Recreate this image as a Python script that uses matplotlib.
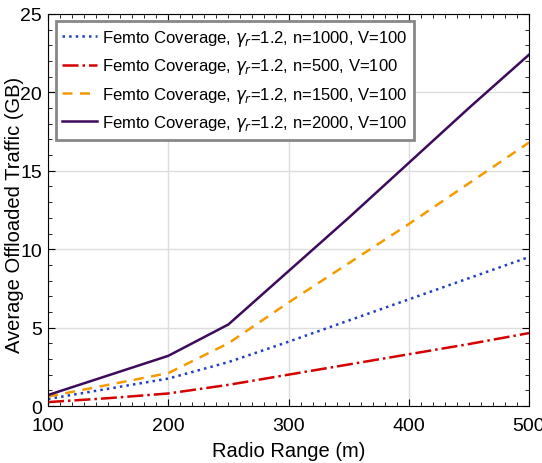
import numpy as np
import matplotlib.pyplot as plt
from matplotlib.ticker import MultipleLocator

# data
radio_range = [100, 150, 200, 250, 300, 350, 400, 450, 500]
n1000 = [0.45, 1.1, 1.75, 2.8, 4.1, 5.45, 6.8, 8.15, 9.5]
n500 = [0.25, 0.5, 0.8, 1.35, 2.0, 2.65, 3.3, 3.95, 4.65]
n1500 = [0.6, 1.35, 2.1, 4.0, 6.6, 9.1, 11.6, 14.2, 16.8]
n2000 = [0.7, 1.95, 3.2, 5.2, 8.6, 12.0, 15.5, 19.0, 22.4]

labels = ["Femto Coverage, $\\gamma_r$=1.2, n=1000, V=100",
          "Femto Coverage, $\\gamma_r$=1.2, n=500, V=100",
          "Femto Coverage, $\\gamma_r$=1.2, n=1500, V=100",
          "Femto Coverage, $\\gamma_r$=1.2, n=2000, V=100"]

plt.rcParams['font.family'] = ['Liberation Sans', 'DejaVu Sans']
plt.rcParams['mathtext.fontset'] = 'dejavusans'

fig = plt.figure(figsize=(5.42, 4.64), dpi=100)
ax = fig.add_axes([0.0886, 0.1228, 0.8874, 0.845])

ax.plot(radio_range, n1000, color="#1f3fbf", linestyle=":", lw=1.8, label=labels[0])
ax.plot(radio_range, n500, color="#d40000", linestyle="-.", lw=1.8, label=labels[1])
ax.plot(radio_range, n1500, color="#f59b00", linestyle=(0, (4, 3)), lw=1.8, label=labels[2])
ax.plot(radio_range, n2000, color="#3d0a5c", linestyle="-", lw=1.8, label=labels[3])

ax.set_xlim(100, 500)
ax.set_ylim(0, 25)
ax.xaxis.set_major_locator(MultipleLocator(100))
ax.xaxis.set_minor_locator(MultipleLocator(10))
ax.yaxis.set_major_locator(MultipleLocator(5))
ax.yaxis.set_minor_locator(MultipleLocator(1))
ax.tick_params(which="both", direction="in", top=True, right=True, labelsize=14)
ax.tick_params(which="major", length=5)
ax.tick_params(which="minor", length=3)
ax.tick_params(axis="x", which="major", pad=8)
ax.tick_params(axis="y", which="major", pad=4.5)
ax.grid(True, which="major", color="#dddddd", lw=1)
ax.set_axisbelow(True)

ax.set_xlabel("Radio Range (m)", fontsize=14.5, labelpad=5)
ax.set_ylabel("Average Offloaded Traffic (GB)", fontsize=14.5)
ax.yaxis.set_label_coords(-0.05, 0.49)

leg = ax.legend(loc="upper left", fontsize=12, fancybox=False, framealpha=1,
                borderaxespad=0.45, handlelength=2.1, labelspacing=0.5,
                handletextpad=0.3)
leg.get_frame().set_edgecolor("#888888")
leg.get_frame().set_linewidth(2)

fig.savefig("out.png", dpi=100)
